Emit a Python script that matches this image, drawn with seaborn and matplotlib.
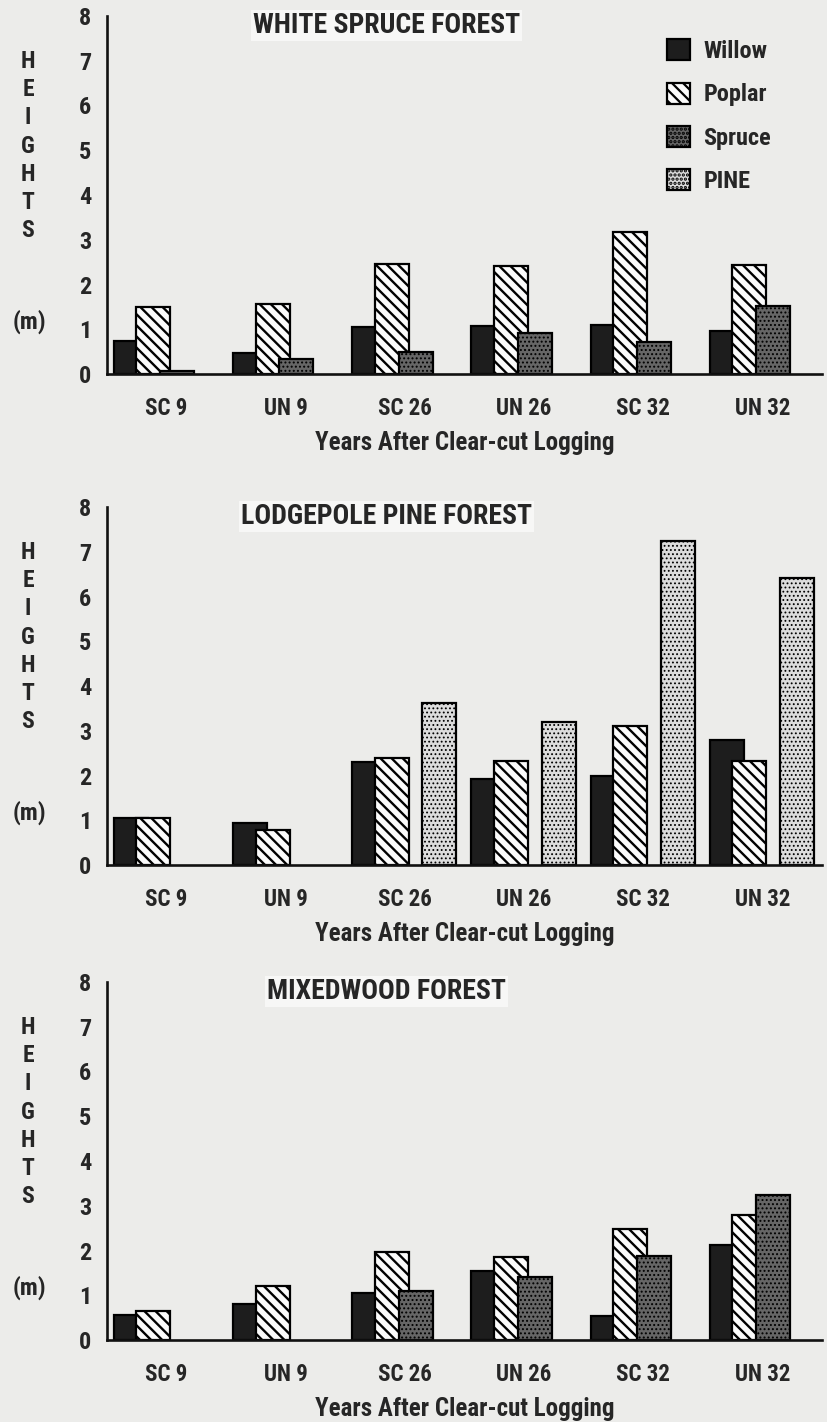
import numpy as np
import pandas as pd
import matplotlib
matplotlib.use("Agg")
import matplotlib.pyplot as plt
import seaborn as sns
from matplotlib.patches import Patch

# ---------------- data ----------------
categories = ["SC 9", "UN 9", "SC 26", "UN 26", "SC 32", "UN 32"]
series_names = ["Willow", "Poplar", "Spruce", "PINE"]

ws_willow = [0.73, 0.48, 1.05, 1.08, 1.09, 0.95]
ws_poplar = [1.50, 1.56, 2.45, 2.42, 3.17, 2.44]
ws_spruce = [0.07, 0.33, 0.50, 0.92, 0.72, 1.52]

lp_willow = [1.05, 0.93, 2.30, 1.93, 1.98, 2.80]
lp_poplar = [1.05, 0.78, 2.40, 2.33, 3.10, 2.32]
lp_pine = [np.nan, np.nan, 3.62, 3.20, 7.23, 6.42]

mw_willow = [0.55, 0.80, 1.05, 1.55, 0.53, 2.12]
mw_poplar = [0.65, 1.20, 1.96, 1.86, 2.47, 2.80]
mw_spruce = [np.nan, np.nan, 1.10, 1.40, 1.87, 3.25]

panel_titles = ["WHITE SPRUCE FOREST", "LODGEPOLE PINE FOREST", "MIXEDWOOD FOREST"]
x_label = "Years After Clear-cut Logging"
y_letters = list("HEIGHTS")
y_unit = "(m)"

panels = [
    {"Willow": ws_willow, "Poplar": ws_poplar, "Spruce": ws_spruce},
    {"Willow": lp_willow, "Poplar": lp_poplar, "PINE": lp_pine},
    {"Willow": mw_willow, "Poplar": mw_poplar, "Spruce": mw_spruce},
]

# ---------------- style ----------------
sns.set_style("white")
FONT = ["Roboto Condensed", "Liberation Sans Narrow", "Roboto", "DejaVu Sans"]
plt.rcParams["font.family"] = FONT
plt.rcParams["font.weight"] = "bold"
plt.rcParams["hatch.linewidth"] = 1.6

BG = "#ececea"
styles = {
    "Willow": dict(color="#1d1d1d", hatch=None, hlw=1.0),
    "Poplar": dict(color="#fbfbfb", hatch="\\\\\\", hlw=1.7),
    "Spruce": dict(color="#666666", hatch="....", hlw=0.9),
    "PINE": dict(color="#dcdcdc", hatch="....", hlw=0.8),
}
slot_center = {"Willow": 0.20, "Poplar": 0.39, "Spruce": 0.59, "PINE": 0.79}
BAR_W = 0.285

fig = plt.figure(figsize=(8.28, 14.22), dpi=100, facecolor=BG)

left = 107 / 828
width = 715 / 828
tops = [16, 507, 982]
h_px = 358

for p, (data, title) in enumerate(zip(panels, panel_titles)):
    bottom = 1 - (tops[p] + h_px) / 1422
    ax = fig.add_axes([left, bottom, width, h_px / 1422])
    ax.set_facecolor(BG)

    for name, vals in data.items():
        st = styles[name]
        df = pd.DataFrame({"pos": np.arange(len(categories)) + slot_center[name],
                           "h": vals}).dropna()
        with plt.rc_context({"hatch.linewidth": st["hlw"]}):
            kw = dict(data=df, x="pos", y="h", native_scale=True, width=BAR_W,
                      color=st["color"], saturation=1, edgecolor="black",
                      linewidth=1.6, errorbar=None, ax=ax)
            if st["hatch"]:
                kw["hatch"] = st["hatch"]
            sns.barplot(**kw)

    ax.set_xlim(0, len(categories))
    ax.set_ylim(0, 8)
    for s in ["top", "right"]:
        ax.spines[s].set_visible(False)
    for s in ["left", "bottom"]:
        ax.spines[s].set_linewidth(1.9)
        ax.spines[s].set_color("#111111")

    ax.set_xticks(np.arange(len(categories) + 1))
    ax.set_xticklabels([])
    ax.set_xticks(np.arange(len(categories)) + 0.5, minor=True)
    ax.set_xticklabels(categories, minor=True, fontsize=16.5, fontweight="bold")
    ax.tick_params(axis="x", which="major", direction="inout", length=9,
                   width=1.6, color="#111111")
    ax.tick_params(axis="x", which="minor", length=0, pad=16.5)

    ax.set_yticks(range(9))
    ax.set_yticklabels([str(v) for v in range(9)], fontsize=17.5, fontweight="bold")
    ax.tick_params(axis="y", direction="inout", length=8, width=1.6,
                   color="#111111", pad=7.5)

    ax.set_xlabel(x_label, fontsize=18, fontweight="bold", labelpad=8)
    ax.set_ylabel("")

    ax.text(0.391, 0.973, title, transform=ax.transAxes, ha="center",
            va="center", fontsize=20, fontweight="bold",
            bbox=dict(facecolor="#f7f7f6", edgecolor="none", pad=1.5))

    for k, letter in enumerate(y_letters):
        ax.text(-0.1105, 0.873 - k * 0.0788, letter, transform=ax.transAxes,
                ha="center", va="center", fontsize=17, fontweight="bold")
    ax.text(-0.108, 0.147, y_unit, transform=ax.transAxes, ha="center",
            va="center", fontsize=17.5, fontweight="bold")

    if p == 0:
        handles = [Patch(facecolor=styles[n]["color"], edgecolor="black",
                         hatch=styles[n]["hatch"], linewidth=1.6)
                   for n in series_names]
        leg = ax.legend(handles, series_names, loc="upper left",
                        bbox_to_anchor=(0.783, 0.935), frameon=False,
                        handlelength=0.95, handleheight=0.95,
                        handletextpad=0.55, labelspacing=0.8,
                        borderpad=0, borderaxespad=0,
                        prop=dict(family=FONT, weight="bold", size=17.5))

fig.savefig("out.png", dpi=100, facecolor=BG)
